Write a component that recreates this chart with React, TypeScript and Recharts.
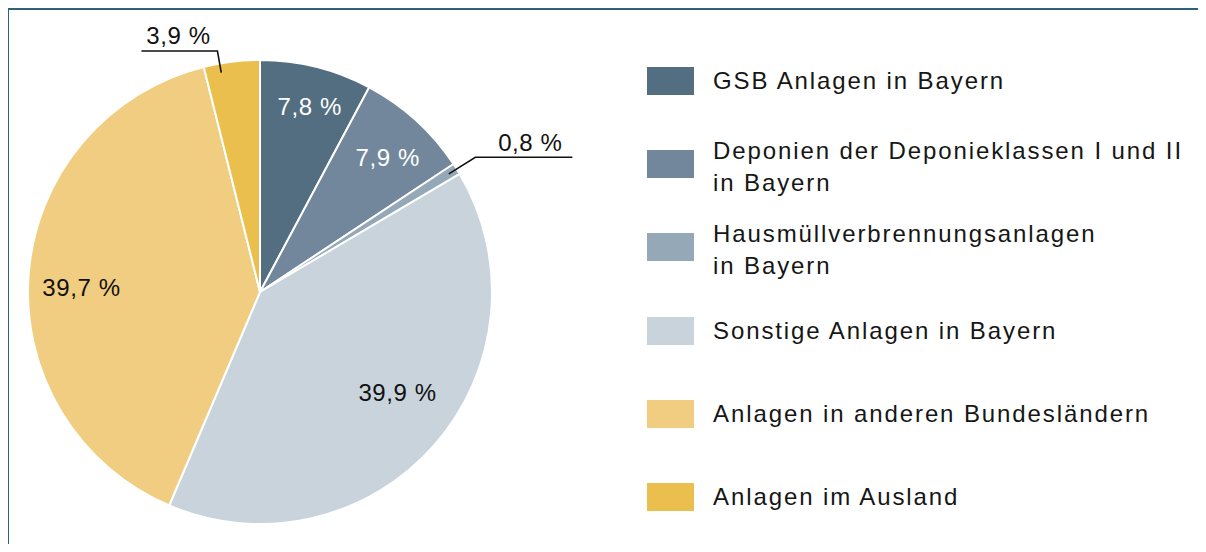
import { PieChart, Pie, Cell } from "recharts";

const categories = [
  "GSB Anlagen in Bayern",
  "Deponien der Deponieklassen I und II\nin Bayern",
  "Hausmüllverbrennungsanlagen\nin Bayern",
  "Sonstige Anlagen in Bayern",
  "Anlagen in anderen Bundesländern",
  "Anlagen im Ausland",
];
const shares = [7.8, 7.9, 0.8, 39.9, 39.7, 3.9];
const colors = ["#536d81", "#72879b", "#95a8b8", "#c8d3dc", "#f0cd80", "#ebbf4e"];

// label placement per slice: r = fraction of radius, da = angle nudge (deg, clockwise)
const labelPos = [
  { r: 0.826, da: 1, fill: "#fff" },
  { r: 0.8, da: 1.2, fill: "#fff" },
  { out: true, r: 1.095, da: 0, len: 97, shift: 55 },
  { r: 0.735, da: -5, fill: "#111" },
  { r: 0.77, da: -3, fill: "#111" },
  { out: true, r: 1.055, da: -3, len: 76, shift: 39 },
];

const data = categories.map((name, i) => ({ name, value: shares[i] }));
const FONT = "'Liberation Sans', Arial, sans-serif";
const fmt = (v: number) => v.toFixed(1).replace(".", ",") + " %";

function renderLabel(props: any) {
  const { cx, cy, midAngle, outerRadius, index, value } = props;
  const cfg: any = labelPos[index];
  const t = ((90 - midAngle + cfg.da) * Math.PI) / 180;
  const at = (k: number) => [cx + outerRadius * k * Math.sin(t), cy - outerRadius * k * Math.cos(t)];
  if (!cfg.out) {
    const [x, y] = at(cfg.r);
    return (
      <text x={x} y={y} fill={cfg.fill} textAnchor="middle" dominantBaseline="central"
        fontFamily={FONT} fontSize={24} letterSpacing={0.6}>
        {fmt(value)}
      </text>
    );
  }
  const [sx, sy] = at(0.96);
  const [ex, ey] = at(cfg.r);
  const dir = Math.sin(t) >= 0 ? 1 : -1;
  const endX = ex + dir * cfg.len;
  return (
    <g>
      <polyline points={`${sx},${sy} ${ex},${ey} ${endX},${ey}`} fill="none" stroke="#111" strokeWidth={1.6} />
      <text x={ex + dir * cfg.shift} y={ey - 15} fill="#111" textAnchor="middle" dominantBaseline="central"
        fontFamily={FONT} fontSize={24} letterSpacing={0.6}>
        {fmt(value)}
      </text>
    </g>
  );
}

export default function App() {
  return (
    <div style={{ position: "relative", width: 1190, height: 536 }}>
      <div style={{ position: "absolute", left: -1, top: 0, width: 1198, height: 1.5, background: "#2f6179" }} />
      <div style={{ position: "absolute", left: -1, top: 0, width: 1.5, height: 544, background: "#2f6179" }} />
      <div style={{ position: "absolute", left: -8, top: -8, width: 1206, height: 552 }}>
        <PieChart width={1206} height={552} margin={{ top: 0, right: 0, bottom: 0, left: 0 }}>
          <Pie
            data={data}
            dataKey="value"
            nameKey="name"
            cx={260}
            cy={292}
            outerRadius={232}
            startAngle={90}
            endAngle={-270}
            stroke="#fff"
            strokeWidth={2}
            label={renderLabel}
            labelLine={false}
            isAnimationActive={false}
          >
            {data.map((_, i) => (
              <Cell key={i} fill={colors[i]} />
            ))}
          </Pie>
        </PieChart>
        <div style={{ position: "absolute", left: 647, top: 39.4, fontFamily: FONT }}>
          {categories.map((c, i) => (
            <div key={i} style={{ display: "flex", alignItems: "center", height: 83.2 }}>
              <div style={{ width: 47, height: 28, background: colors[i], flexShrink: 0 }} />
              <div style={{ marginLeft: 19, fontSize: 24, lineHeight: "32px", letterSpacing: 1.9,
                color: "#161616", whiteSpace: "pre-line", paddingTop: c.includes("\n") ? 5 : 0 }}>
                {c}
              </div>
            </div>
          ))}
        </div>
      </div>
    </div>
  );
}
